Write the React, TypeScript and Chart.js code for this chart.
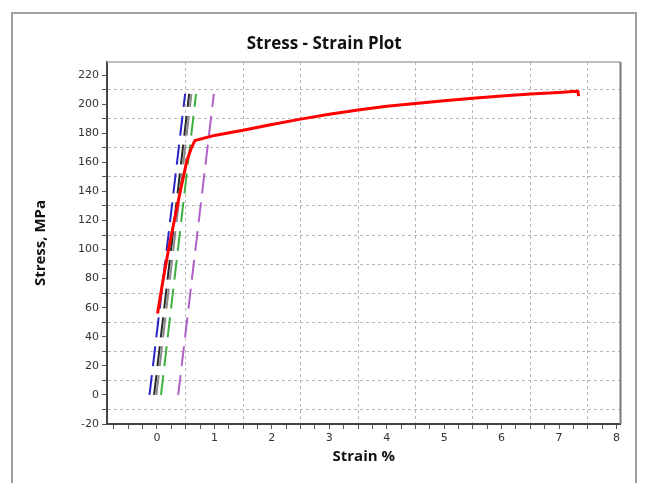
import React, { useEffect, useRef } from "react";
import { Chart, registerables } from "chart.js";

Chart.register(...registerables);

// Main stress-strain curve (strain %, stress MPa)
const curveStrain = [0.01, 0.11, 0.22, 0.4, 0.52, 0.6, 0.66, 1.0, 1.5, 2.0, 2.5, 3.0, 3.5, 4.0, 4.5, 5.0, 5.5, 6.0, 6.5, 7.0, 7.3, 7.33, 7.34];
const curveStress = [56, 80, 104, 139, 161, 170, 175, 178.5, 182, 186, 189.7, 193, 196, 198.5, 200.5, 202.3, 204, 205.6, 207, 208, 208.8, 208.6, 205.5];

// Offset (dashed) elastic lines
const offsetNames = ["Offset A", "Offset B", "Offset C", "Offset D", "Offset E"];
const offsetStartStrain = [-0.13, -0.05, -0.01, 0.07, 0.37];
const offsetEndStrain = [0.49, 0.56, 0.6, 0.68, 0.99];
const offsetStress = [0, 207];
const offsetColors = ["#2626c8", "#2b2b2b", "#8a8a8a", "#3fb03f", "#b060c8"];

const xMin = -0.87;
const xMax = 8.07;
const yMin = -20;
const yMax = 229;

export default function App() {
  const ref = useRef<HTMLCanvasElement>(null);

  useEffect(() => {
    if (!ref.current) return;
    const datasets: any[] = [
      {
        label: "Stress",
        data: curveStrain.map((x, i) => ({ x, y: curveStress[i] })),
        borderColor: "#ff0000",
        borderWidth: 3,
        pointRadius: 0,
        tension: 0,
        fill: false,
      },
    ];
    offsetNames.forEach((name, i) => {
      datasets.push({
        label: name,
        data: [
          { x: offsetStartStrain[i], y: offsetStress[0] },
          { x: offsetEndStrain[i], y: offsetStress[1] },
        ],
        borderColor: offsetColors[i],
        borderWidth: 2,
        borderDash: [20, 9],
        pointRadius: 0,
        fill: false,
      });
    });

    const framePlugin = {
      id: "frame",
      afterDraw(chart: any) {
        const { ctx, chartArea } = chart;
        ctx.save();
        ctx.strokeStyle = "#a8a8a8";
        ctx.lineWidth = 1.5;
        ctx.beginPath();
        ctx.moveTo(chartArea.left, chartArea.top);
        ctx.lineTo(chartArea.right, chartArea.top);
        ctx.stroke();
        ctx.strokeStyle = "#7a7a7a";
        ctx.lineWidth = 2;
        ctx.beginPath();
        ctx.moveTo(chartArea.right, chartArea.top);
        ctx.lineTo(chartArea.right, chartArea.bottom);
        ctx.stroke();
        ctx.restore();
      },
    };

    const chart = new Chart(ref.current, {
      type: "line",
      data: { datasets },
      plugins: [framePlugin],
      options: {
        animation: false,
        responsive: false,
        maintainAspectRatio: false,
        layout: { padding: { left: 28, right: 25.5, top: 0, bottom: 13 } },
        plugins: {
          legend: { display: false },
          tooltip: { enabled: false },
          title: {
            display: true,
            text: "Stress - Strain Plot",
            color: "#111",
            font: { family: "Open Sans", size: 17, weight: "bold" },
            padding: { top: 33.8, bottom: 7.8 },
          },
        },
        scales: {
          x: {
            type: "linear",
            min: xMin,
            max: xMax,
            afterFit: (s: any) => {
              s.height = 46;
            },
            afterBuildTicks: (s: any) => {
              const t = [];
              for (let v = -3; v <= 32; v++) t.push({ value: v / 4 });
              s.ticks = t;
            },
            title: {
              display: true,
              text: "Strain %",
              color: "#111",
              font: { family: "Open Sans", size: 15, weight: "bold" },
              padding: { top: 4, bottom: 4 },
            },
            ticks: {
              autoSkip: false,
              maxRotation: 0,
              padding: 3,
              color: "#333",
              font: { family: "DejaVu Sans", size: 11 },
              callback: (v: any) => (Math.abs(v - Math.round(v)) < 1e-6 ? String(Math.round(v)) : ""),
            },
            grid: {
              color: (c: any) => {
                const v = c.tick ? c.tick.value : 0;
                const f = v - Math.floor(v);
                return Math.abs(f - 0.5) < 1e-6 && v > 0 ? "#b8b8b8" : "rgba(0,0,0,0)";
              },
              lineWidth: 1,
              drawTicks: true,
              tickLength: 5,
              tickColor: "#555",
              tickWidth: 1,
            },
            border: { display: true, color: "#444", width: 2, dash: [3, 3] },
          },
          y: {
            type: "linear",
            min: yMin,
            max: yMax,
            afterFit: (s: any) => {
              s.width = 79;
            },
            afterBuildTicks: (s: any) => {
              const t = [];
              for (let v = -20; v <= 220; v += 10) t.push({ value: v });
              s.ticks = t;
            },
            title: {
              display: true,
              text: "Stress, MPa",
              color: "#111",
              font: { family: "Open Sans", size: 15, weight: "bold" },
              padding: { top: 4, bottom: 4 },
            },
            ticks: {
              autoSkip: false,
              padding: 3,
              color: "#333",
              font: { family: "DejaVu Sans", size: 11 },
              callback: (v: any) => (Math.round(v) % 20 === 0 ? String(Math.round(v)) : ""),
            },
            grid: {
              color: (c: any) => {
                const v = c.tick ? Math.round(c.tick.value) : 0;
                return Math.abs(v % 20) === 10 ? "#b8b8b8" : "rgba(0,0,0,0)";
              },
              lineWidth: 1,
              drawTicks: true,
              tickLength: 5,
              tickColor: "#555",
              tickWidth: 1,
            },
            border: { display: true, color: "#444", width: 2, dash: [3, 3] },
          },
        },
      },
    });
    return () => chart.destroy();
  }, []);

  return (
    <div style={{ position: "absolute", left: 0, top: 0, width: 646, height: 483, overflow: "hidden", background: "#fff" }}>
      <div
        style={{
          position: "absolute",
          left: 11,
          top: 12,
          width: 622,
          height: 480,
          borderTop: "2px solid #a0a0a0",
          borderLeft: "2px solid #a0a0a0",
          borderRight: "2px solid #a0a0a0",
        }}
      />
      <canvas ref={ref} width={646} height={483} style={{ position: "absolute", left: 0, top: 0, width: 646, height: 483 }} />
    </div>
  );
}
